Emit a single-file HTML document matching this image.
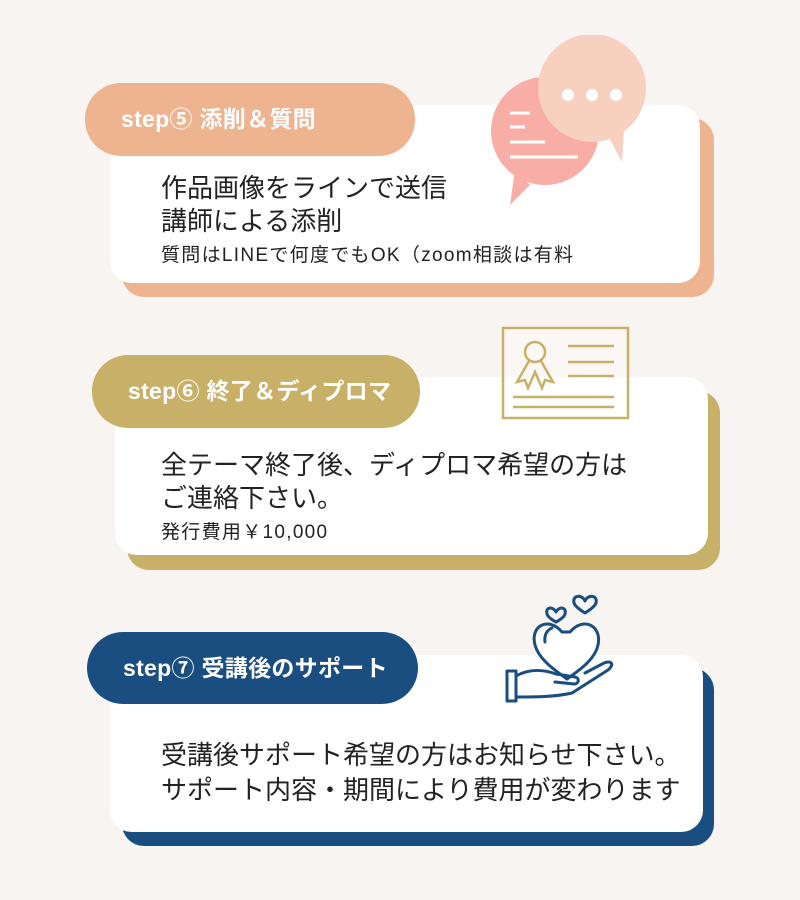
<!DOCTYPE html>
<html><head><meta charset="utf-8"><style>
body{margin:0;width:800px;height:900px;background:#f8f4f1;position:relative;overflow:hidden;font-family:"Liberation Sans","Noto Sans CJK JP",sans-serif;}
.a{position:absolute;}
.card{background:#fff;border-radius:22px;}
.pill{border-radius:36px;color:#fff;font-weight:bold;font-size:23px;letter-spacing:0.3px;line-height:73px;padding-left:36px;box-sizing:border-box;white-space:nowrap;}
.t{position:absolute;color:#222;font-size:26px;white-space:nowrap;}
.s{font-size:19px;letter-spacing:1.3px;}
</style></head><body>
<!-- card 1 -->
<div class="a card" style="left:122px;top:118px;width:592px;height:179px;background:#eeb38f"></div>
<div class="a card" style="left:110px;top:105px;width:590px;height:178px"></div>
<div class="a pill" style="left:85px;top:83px;width:330px;height:73px;background:#eeb38f">step⑤ 添削＆質問</div>
<svg class="a" style="left:480px;top:35px" width="180" height="170" viewBox="480 35 180 170">
<circle cx="545" cy="131" r="54" fill="#f8aea6"/><polygon points="515,170 530,185 510,205" fill="#f8aea6"/>
<g stroke="#fff" stroke-width="3"><line x1="510" y1="113" x2="530" y2="113"/><line x1="510" y1="127" x2="525" y2="127"/><line x1="510" y1="142" x2="545" y2="142"/><line x1="510" y1="157" x2="578" y2="157"/></g>
<circle cx="592" cy="88" r="54" fill="#f8d0bf"/><polygon points="605,130 625,115 622,162" fill="#f8d0bf"/>
<circle cx="568" cy="95" r="6" fill="#fff"/><circle cx="592" cy="95" r="6" fill="#fff"/><circle cx="616" cy="95" r="6" fill="#fff"/>
</svg>
<div class="t" style="left:161px;top:168px">作品画像をラインで送信</div>
<div class="t" style="left:161px;top:201px">講師による添削</div>
<div class="t s" style="left:161px;top:240px">質問はLINEで何度でもOK（zoom相談は有料</div>
<!-- card 2 -->
<div class="a card" style="left:127px;top:391px;width:593px;height:179px;background:#c9b068"></div>
<div class="a card" style="left:115px;top:377px;width:593px;height:178px"></div>
<div class="a pill" style="left:92px;top:355px;width:328px;height:73px;background:#c9b068">step⑥ 終了＆ディプロマ</div>
<svg class="a" style="left:495px;top:320px" width="145" height="110" viewBox="495 320 145 110">
<rect x="503" y="328" width="125" height="90" fill="rgba(255,255,255,0.3)" stroke="#c9b068" stroke-width="2.5"/>
<g stroke="#c9b068" stroke-width="2.5" fill="none">
<circle cx="535" cy="352" r="10"/>
<path d="M529,361 L517,382 L525,380 L528,388 L535,372 L542,388 L545,380 L553,382 L541,361"/>
<line x1="568" y1="346" x2="614" y2="346"/><line x1="568" y1="362" x2="614" y2="362"/><line x1="568" y1="376" x2="614" y2="376"/>
<line x1="513" y1="397" x2="614" y2="397"/><line x1="513" y1="407" x2="614" y2="407"/></g>
</svg>
<div class="t" style="left:161px;top:445px">全テーマ終了後、ディプロマ希望の方は</div>
<div class="t" style="left:161px;top:478px">ご連絡下さい。</div>
<div class="t s" style="left:161px;top:517px">発行費用￥10,000</div>
<!-- card 3 -->
<div class="a card" style="left:122px;top:668px;width:592px;height:178px;background:#1a4d80"></div>
<div class="a card" style="left:110px;top:655px;width:593px;height:177px"></div>
<div class="a pill" style="left:87px;top:632px;width:331px;height:72px;background:#1a4d80;line-height:72px">step⑦ 受講後のサポート</div>
<svg class="a" style="left:495px;top:590px" width="150" height="120" viewBox="495 590 150 120">
<g stroke="#1a4d80" stroke-width="3" fill="none" stroke-linejoin="round" stroke-linecap="round">
<path d="M562,632 C548,616 530,626 535,645 C539,660 556,671 567,679 C578,671 595,660 598,645 C602,626 584,616 570,632 Z" fill="#fff"/>
<path d="M545,642 C544,635 547,630 552,628"/>
<path d="M556,612 C553,606 545,607 547,614 C548,618 556,622 556,622 C556,622 564,618 565,614 C567,607 559,606 556,612Z"/>
<path d="M585,601 C582,594 572,595 574,603 C575,607 585,613 585,613 C585,613 595,607 596,603 C598,595 588,594 585,601Z"/>
<rect x="507" y="671" width="9" height="30"/>
<path d="M516,676 C530,668 545,670 556,674 L575,677 C580,678 579,684 574,684 L555,682"/>
<path d="M516,697 C535,697 555,697 572,693 L608,670 C615,664 611,660 604,663 L585,673"/>
</g></svg>
<div class="t" style="left:161px;top:735px">受講後サポート希望の方はお知らせ下さい。</div>
<div class="t" style="left:161px;top:770px">サポート内容・期間により費用が変わります</div>
</body></html>
